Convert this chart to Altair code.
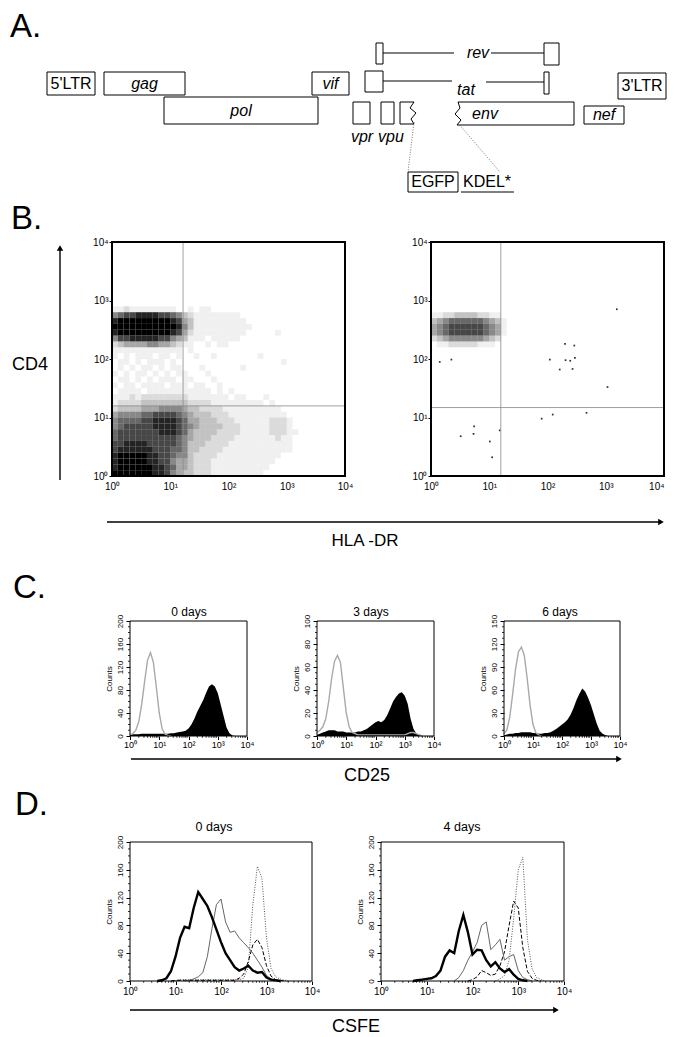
import altair as alt
import pandas as pd

W, H = 660, 1029          # drawing area (page minus 8px margin)
OX, OY = 8, 8             # page margin
FONT = "Liberation Sans, Arial, Helvetica, sans-serif"

# ===================== DATA =====================
# ---- A: provirus map, map units (x from 5'LTR start, y from top track) ----
BOX_LABELS = ["5'LTR", "gag", "vif", "3'LTR", "pol", "", "", "nef", "EGFP", "", "", "", ""]
BOX_ITALIC = [False, True, True, False, True, False, False, True, False, False, False, False, False]
BOX_X0 = [0, 57, 265, 571, 117, 306, 334, 537, 361, 318, 497, 329, 497]
BOX_X1 = [48, 138, 302, 619, 271, 323, 347, 577, 411, 336, 502, 336, 512]
BOX_Y0 = [29, 29, 29, 30, 54, 59, 59, 63, 129, 28, 29, 0, 0]
BOX_Y1 = [52, 52, 52, 56, 81, 81, 81, 81, 149, 49, 51, 21, 22]

FREE_LABELS = ["rev", "tat", "vpr", "vpu", "env", "KDEL*"]
FREE_ITALIC = [True, True, True, True, True, False]
FREE_X = [431, 419, 315, 344, 438, 440]
FREE_Y = [10, 47, 94, 94, 71, 139]

SEG_X0 = [336, 444, 336, 439, 414]
SEG_X1 = [407, 497, 405, 497, 467]
SEG_Y = [10, 10, 38, 39, 149]

GUIDE_X0 = [367, 411]
GUIDE_Y0 = [79, 80]
GUIDE_X1 = [361, 453]
GUIDE_Y1 = [129, 129]

STUB_PATH_X = [367, 353, 353, 367, 364, 369, 363, 367]
STUB_PATH_Y = [59, 59, 81, 81, 76, 70, 65, 59]
ENV_PATH_X = [411, 527, 527, 410, 414, 408, 413, 411]
ENV_PATH_Y = [59, 59, 82, 82, 77, 71, 65, 59]

# ---- B: dot-plot density read per 0.1-decade cell (level 0-9), row = log10(CD4)*10 ----
B_LEFT_ROWS = {
    28: "1121111111100101100000000000000000000000",
    27: "5677888877653211111111000000000000000000",
    26: "8999999999874311111111100000000000000000",
    25: "9999999999985311111111110000000000000000",
    24: "8999999999874211111111100000100000000000",
    23: "5778888877543111011111000000000000000000",
    22: "2344445544321100101100000000000000000000",
    21: "1111111111110100000000000000000000000000",
    20: "1010111011010010010000000100000000000000",
    19: "0110101110100000000000000000010000000000",
    18: "0101011010110001000000100000000000000000",
    17: "1010110101011000100000000000000000000000",
    16: "0110101011101100010000000000000000000000",
    15: "1011011110111011001000000000000000000000",
    14: "0111101111111111101010000000000000000000",
    13: "1112122222222111111101100010000000000000",
    12: "1222233333333222211111111101000000000000",
    11: "2333344455554332222111111111100000000000",
    10: "4555566777765433322211111111110000000000",
    9:  "5666677888876443332221111112221000000000",
    8:  "5677777888876543333222111112221000000000",
    7:  "6777777788876433332222111112221100000000",
    6:  "6777777777765433322221111111211000000000",
    5:  "7788887777765333222211111111111000000000",
    4:  "7888888777665332222111111111111000000000",
    3:  "8999998877655322221111111111100000000000",
    2:  "8999998877544322211111111111000000000000",
    1:  "8999999887644322211111111110000000000000",
    0:  "9999999887543322211111111100000000000000",
}
B_RIGHT_ROWS = {
    27: "1122333322110",
    26: "3456666665431",
    25: "4567777776541",
    24: "4567777776541",
    23: "2345555554320",
    22: "0112222211100",
}
# isolated events in the right plot (log10 HLA-DR, log10 CD4)
B_RIGHT_DOT_LX = [0.15, 0.35, 2.04, 2.21, 2.30, 2.31, 2.39, 2.46, 2.47, 2.43, 3.03, 1.90, 2.09, 2.67,
                  0.51, 0.74, 0.73, 1.01, 1.05, 1.18, 3.19]
B_RIGHT_DOT_LY = [1.95, 1.99, 1.99, 1.82, 2.26, 1.98, 1.97, 2.23, 2.02, 1.83, 1.52, 0.98, 1.05, 1.08,
                  0.68, 0.85, 0.72, 0.59, 0.32, 0.78, 2.85]
B_GATES = [(16.6, 15.8), (15.8, 14.8)]   # quadrant markers (x, y)

# ---- C / D: histograms sampled every 0.1 decade ----
LOG_GRID = [0.0, 0.1, 0.2, 0.3, 0.4, 0.5, 0.6, 0.7, 0.8, 0.9, 1.0, 1.1, 1.2, 1.3, 1.4, 1.5, 1.6, 1.7,
            1.8, 1.9, 2.0, 2.1, 2.2, 2.3, 2.4, 2.5, 2.6, 2.7, 2.8, 2.9, 3.0, 3.1, 3.2, 3.3, 3.4, 3.5,
            3.6, 3.7, 3.8, 3.9, 4.0]

C0_CONTROL = [2, 4, 10, 25, 55, 95, 132, 145, 128, 85, 40, 12, 3, 1, 0, 0, 0, 0, 0, 0, 0, 0, 0, 0, 0,
              0, 0, 0, 0, 0, 0, 0, 0, 0, 0, 0, 0, 0, 0, 0, 0]
C0_CD25 = [3, 3, 3, 3, 4, 4, 4, 4, 4, 4, 4, 4, 4, 4, 5, 5, 6, 7, 8, 9, 13, 20, 30, 42, 52, 62, 75, 86,
           90, 86, 75, 55, 35, 15, 5, 1, 0, 0, 0, 0, 0]
C3_CONTROL = [3, 5, 8, 15, 30, 50, 65, 70, 64, 42, 20, 8, 3, 2, 1, 1, 1, 1, 1, 1, 1, 1, 1, 1, 1, 1, 1,
              1, 1, 1, 1, 2, 3, 3, 2, 1, 0, 0, 0, 0, 0]
C3_CD25 = [1, 2, 3, 4, 5, 5, 5, 4, 4, 4, 3, 3, 3, 3, 4, 4, 5, 6, 8, 10, 12, 13, 12, 14, 18, 24, 30, 34,
           37, 38, 35, 28, 15, 6, 2, 1, 0, 0, 0, 0, 0]
C6_CONTROL = [3, 8, 25, 55, 88, 110, 116, 105, 75, 40, 15, 4, 1, 0, 0, 0, 0, 0, 0, 0, 0, 0, 0, 0, 0,
              0, 0, 0, 0, 0, 0, 0, 0, 0, 0, 0, 0, 0, 0, 0, 0]
C6_CD25 = [1, 2, 3, 3, 4, 4, 5, 5, 5, 5, 4, 4, 3, 3, 4, 4, 5, 7, 9, 12, 15, 18, 22, 28, 37, 47, 55, 62,
           58, 50, 40, 28, 16, 7, 3, 1, 0, 0, 0, 0, 0]

D0_THICK = [0, 0, 0, 0, 0, 0, 0, 1, 4, 14, 35, 62, 78, 76, 105, 128, 118, 108, 92, 74, 56, 40, 30, 20,
            15, 18, 22, 15, 12, 13, 5, 2, 1, 0, 0, 0, 0, 0, 0, 0, 0]
D0_THIN = [0, 0, 0, 0, 0, 0, 0, 0, 0, 0, 0, 0, 0, 1, 3, 6, 12, 35, 75, 110, 118, 85, 70, 72, 62, 55,
           48, 40, 30, 20, 8, 3, 1, 0, 0, 0, 0, 0, 0, 0, 0]
D0_DASH = [0, 0, 0, 0, 0, 0, 0, 0, 0, 0, 1, 1, 1, 1, 1, 1, 1, 1, 1, 1, 1, 1, 1, 1, 4, 10, 28, 52, 60,
           48, 22, 7, 2, 1, 0, 0, 0, 0, 0, 0, 0]
D0_DOT = [0, 0, 0, 0, 0, 0, 0, 0, 0, 0, 0, 2, 2, 2, 2, 2, 2, 2, 2, 2, 2, 2, 2, 2, 2, 4, 20, 110, 165,
          148, 62, 18, 6, 3, 1, 0, 0, 0, 0, 0, 0]
D4_THICK = [0, 0, 0, 0, 0, 0, 0, 0, 1, 2, 3, 4, 7, 15, 35, 44, 40, 72, 95, 70, 38, 45, 44, 30, 21, 27,
            18, 13, 17, 9, 3, 1, 0, 0, 0, 0, 0, 0, 0, 0, 0]
D4_THIN = [0, 0, 0, 0, 0, 0, 0, 0, 0, 0, 0, 0, 0, 0, 0, 0, 0, 5, 15, 30, 42, 55, 80, 85, 45, 52, 60,
           30, 35, 38, 15, 5, 2, 0, 0, 0, 0, 0, 0, 0, 0]
D4_DASH = [0, 0, 0, 0, 0, 0, 0, 0, 0, 0, 0, 0, 0, 0, 0, 0, 0, 0, 0, 0, 2, 6, 15, 12, 8, 10, 22, 42, 80,
           115, 105, 48, 14, 4, 1, 0, 0, 0, 0, 0, 0]
D4_DOT = [0, 0, 0, 0, 0, 0, 0, 0, 0, 0, 0, 0, 0, 0, 0, 0, 0, 0, 0, 0, 0, 0, 0, 0, 0, 0, 3, 8, 30, 90,
          160, 178, 60, 18, 5, 2, 0, 0, 0, 0, 0]

LOG_TICKS = [1, 10, 100, 1000, 10000]
MINOR_TICKS = [m * d for d in [1, 10, 100, 1000] for m in range(2, 10)]

SUP_EXPR = ("datum.value == 1 ? '10\u2070' : datum.value == 10 ? '10\u00b9' : "
            "datum.value == 100 ? '10\u00b2' : datum.value == 1000 ? '10\u00b3' : "
            "datum.value == 10000 ? '10\u2074' : ''")

# ===================== LAYOUT (page px) =====================
FRAME_B = [(112, 345, 242, 476), (431, 664, 242, 476)]
FRAME_C = [(130, 247, 621, 736), (317, 434, 621, 736), (504, 620, 621, 736)]
FRAME_D = [(130, 312, 842, 981), (381, 564, 842, 981)]


def one_row():
    return pd.DataFrame({"k": [0]})


def text_mark(txt, x, y, size, align="center", baseline="middle", style="normal"):
    return alt.Chart(pd.DataFrame({"t": [txt]})).mark_text(
        fontSize=size, align=align, baseline=baseline, font=FONT, fontStyle=style, color="black"
    ).encode(x=alt.value(x - OX), y=alt.value(y - OY), text="t:N")


def h_arrow(x0, x1, y, width=1.4):
    rule = alt.Chart(one_row()).mark_rule(color="black", strokeWidth=width).encode(
        x=alt.value(x0 - OX), x2=alt.value(x1 - OX - 5), y=alt.value(y - OY))
    head = alt.Chart(one_row()).mark_point(shape="triangle-right", filled=True, size=42,
                                           color="black", opacity=1).encode(
        x=alt.value(x1 - OX - 4), y=alt.value(y - OY))
    return [rule, head]


def v_arrow(x, y_bottom, y_top, width=1.4):
    rule = alt.Chart(one_row()).mark_rule(color="black", strokeWidth=width).encode(
        x=alt.value(x - OX), y=alt.value(y_bottom - OY), y2=alt.value(y_top - OY + 5))
    head = alt.Chart(one_row()).mark_point(shape="triangle-up", filled=True, size=42,
                                           color="black", opacity=1).encode(
        x=alt.value(x - OX), y=alt.value(y_top - OY + 4))
    return [rule, head]


# ===================== PANEL A =====================
def a_x(field):
    return alt.X(field, type="quantitative", axis=None,
                 scale=alt.Scale(domain=[0, 620], range=[39, 659], nice=False, zero=False))


def a_y(field):
    return alt.Y(field, type="quantitative", axis=None,
                 scale=alt.Scale(domain=[0, 152], range=[35, 187], nice=False, zero=False))


boxes = pd.DataFrame({"x0": BOX_X0, "x1": BOX_X1, "y0": BOX_Y0, "y1": BOX_Y1,
                      "label": BOX_LABELS, "italic": BOX_ITALIC})
boxes["xc"] = (boxes.x0 + boxes.x1) / 2
boxes["yc"] = (boxes.y0 + boxes.y1) / 2
free = pd.DataFrame({"x": FREE_X, "y": FREE_Y, "label": FREE_LABELS, "italic": FREE_ITALIC})
segs = pd.DataFrame({"x0": SEG_X0, "x1": SEG_X1, "y": SEG_Y})
guides = pd.DataFrame({"x0": GUIDE_X0, "x1": GUIDE_X1, "y0": GUIDE_Y0, "y1": GUIDE_Y1})
paths = pd.concat([
    pd.DataFrame({"x": STUB_PATH_X, "y": STUB_PATH_Y, "i": range(len(STUB_PATH_X)), "g": "stub"}),
    pd.DataFrame({"x": ENV_PATH_X, "y": ENV_PATH_Y, "i": range(len(ENV_PATH_X)), "g": "env"}),
])

units_a = [
    alt.Chart(boxes).mark_rect(fillOpacity=0, stroke="black", strokeWidth=1).encode(
        x=a_x("x0"), x2="x1", y=a_y("y0"), y2="y1"),
    alt.Chart(paths).mark_line(color="black", strokeWidth=1).encode(
        x=a_x("x"), y=a_y("y"), detail="g:N", order="i:Q"),
    alt.Chart(segs).mark_rule(color="black", strokeWidth=1).encode(
        x=a_x("x0"), x2="x1", y=a_y("y")),
    alt.Chart(guides).mark_rule(color="#555", strokeWidth=0.8, strokeDash=[1, 1.5]).encode(
        x=a_x("x0"), x2="x1", y=a_y("y0"), y2="y1"),
    alt.Chart(boxes[(boxes.label != "") & boxes.italic]).mark_text(
        fontSize=16, fontStyle="italic", font=FONT, color="black").encode(
        x=a_x("xc"), y=a_y("yc"), text="label:N"),
    alt.Chart(boxes[(boxes.label != "") & ~boxes.italic]).mark_text(
        fontSize=16, font=FONT, color="black").encode(
        x=a_x("xc"), y=a_y("yc"), text="label:N"),
    alt.Chart(free[free.italic]).mark_text(
        fontSize=16, fontStyle="italic", font=FONT, color="black").encode(
        x=a_x("x"), y=a_y("y"), text="label:N"),
    alt.Chart(free[~free.italic]).mark_text(
        fontSize=16, font=FONT, color="black").encode(
        x=a_x("x"), y=a_y("y"), text="label:N"),
]


# ===================== PANEL B =====================
def cells_frame(rows):
    recs = []
    for r, s in rows.items():
        for c, ch in enumerate(s):
            lvl = int(ch)
            if lvl > 0:
                recs.append({"xa": 10 ** (c / 10), "xb": 10 ** ((c + 1) / 10),
                             "ya": 10 ** (r / 10), "yb": 10 ** ((r + 1) / 10), "lvl": lvl})
    return pd.DataFrame(recs)


def scatter_units(frame, rows, gate, dots=None, last_label_right=False):
    x0, x1, y0, y1 = frame

    def sx():
        return alt.Scale(type="log", domain=[1, 10000], range=[x0 - OX, x1 - OX], nice=False)

    def sy():
        return alt.Scale(type="log", domain=[1, 10000], range=[y1 - OY, y0 - OY], nice=False)

    xaxis_kw = dict(orient="bottom", offset=(y1 - OY) - H, values=LOG_TICKS, labelExpr=SUP_EXPR,
                    tickSize=0, labelPadding=5, labelFontSize=10, labelFlush=False,
                    labelOverlap=False, domain=False, grid=False, title="")
    if last_label_right:
        xaxis_kw["labelAlign"] = {"condition": {"test": "datum.value == 10000", "value": "right"},
                                  "value": "center"}
    xaxis = alt.Axis(**xaxis_kw)
    yaxis = alt.Axis(orient="left", offset=-(x0 - OX), values=LOG_TICKS, labelExpr=SUP_EXPR,
                     tickSize=3, labelPadding=1, labelFontSize=10,
                     labelFlush=False, labelOverlap=False, domain=False, grid=False, title="")
    units = [alt.Chart(cells_frame(rows)).mark_rect(color="black", strokeWidth=0).encode(
        x=alt.X("xa:Q", scale=sx(), axis=None), x2="xb:Q",
        y=alt.Y("ya:Q", scale=sy(), axis=None), y2="yb:Q",
        opacity=alt.Opacity("lvl:Q", scale=alt.Scale(type="pow", exponent=1.3, domain=[0, 9],
                                                     range=[0, 1]), legend=None))]
    if dots is not None:
        lx, ly = dots
        ddf = pd.DataFrame({"x": [10 ** v for v in lx], "y": [10 ** v for v in ly]})
        units.append(alt.Chart(ddf).mark_square(size=3, color="black", opacity=0.8).encode(
            x=alt.X("x:Q", scale=sx(), axis=None), y=alt.Y("y:Q", scale=sy(), axis=None)))
    gx, gy = gate
    units.append(alt.Chart(pd.DataFrame({"xa": [gx, 1], "xb": [gx, 10000],
                                         "ya": [1, gy], "yb": [10000, gy]})
                           ).mark_rule(color="#888", strokeWidth=0.8).encode(
        x=alt.X("xa:Q", scale=sx(), axis=None), x2="xb:Q",
        y=alt.Y("ya:Q", scale=sy(), axis=None), y2="yb:Q"))
    units.append(alt.Chart(pd.DataFrame({"xa": [1], "xb": [10000], "ya": [1], "yb": [10000]})).mark_rect(
        fillOpacity=0, stroke="black", strokeWidth=2).encode(
        x=alt.X("xa:Q", scale=sx(), axis=xaxis), x2="xb:Q",
        y=alt.Y("ya:Q", scale=sy(), axis=yaxis), y2="yb:Q"))
    return units


units_b = (scatter_units(FRAME_B[0], B_LEFT_ROWS, B_GATES[0]) +
           scatter_units(FRAME_B[1], B_RIGHT_ROWS, B_GATES[1], (B_RIGHT_DOT_LX, B_RIGHT_DOT_LY),
                         last_label_right=True))


# ===================== PANELS C and D =====================
def series_df(vals, trim=True):
    lo, hi = 0, len(vals) - 1
    if trim:
        nz = [i for i, v in enumerate(vals) if v > 0]
        lo, hi = max(nz[0] - 1, 0), min(nz[-1] + 1, len(vals) - 1)
    return pd.DataFrame({"v": [10 ** g for g in LOG_GRID[lo:hi + 1]], "c": vals[lo:hi + 1]})


STYLES = {
    "control": dict(color="#a9a9a9", strokeWidth=1.4),
    "thick": dict(color="black", strokeWidth=2.4),
    "thin": dict(color="#666666", strokeWidth=1.0),
    "dash": dict(color="black", strokeWidth=1.0, strokeDash=[4, 2]),
    "dot": dict(color="#555555", strokeWidth=1.0, strokeDash=[1, 1.5]),
}


def hist_units(frame, ymax, label_step, area_vals, lines, xlab_pad, xlab_size):
    x0, x1, y0, y1 = frame

    def sx():
        return alt.Scale(type="log", domain=[1, 10000], range=[x0 - OX, x1 - OX], nice=False)

    def sy():
        return alt.Scale(type="linear", domain=[0, ymax], range=[y1 - OY, y0 - OY], nice=False,
                         zero=True)

    xaxis = alt.Axis(orient="bottom", offset=(y1 - OY) - H, values=LOG_TICKS, labelExpr=SUP_EXPR,
                     tickSize=3.5, labelPadding=xlab_pad, labelFontSize=xlab_size, labelFlush=False,
                     labelOverlap=False, domain=False, grid=False, title="")
    ymajor = [label_step * i for i in range(int(round(ymax / label_step)) + 1)]
    yaxis = alt.Axis(orient="left", offset=-(x0 - OX), values=ymajor,
                     tickSize=4, labelAngle=270, labelAlign="center", labelBaseline="bottom",
                     labelPadding=2, labelFontSize=8, labelFlush=False, labelOverlap=False,
                     title="Counts", titleFontSize=8, titleFontWeight="normal", titlePadding=3,
                     domain=False, grid=False)
    px_per_count = (y1 - y0) / ymax
    px_per_decade = (x1 - x0) / 4
    minor_x = pd.DataFrame({"v": MINOR_TICKS, "c0": 0.0, "c1": -1.8 / px_per_count})
    minor_y_vals = [ymax * i / 20 for i in range(21) if (ymax * i / 20) % label_step != 0]
    minor_y = pd.DataFrame({"c": minor_y_vals, "v0": 1.0, "v1": 10 ** (-2.0 / px_per_decade)})
    units = []
    if area_vals is not None:
        units.append(alt.Chart(series_df(area_vals, trim=False)).mark_area(
            color="black", interpolate="linear", opacity=1).encode(
            x=alt.X("v:Q", scale=sx(), axis=None), y=alt.Y("c:Q", scale=sy(), axis=None)))
    for vals, style in lines:
        units.append(alt.Chart(series_df(vals)).mark_line(interpolate="linear", **STYLES[style]).encode(
            x=alt.X("v:Q", scale=sx(), axis=None), y=alt.Y("c:Q", scale=sy(), axis=None)))
    units.append(alt.Chart(minor_x).mark_rule(color="black", strokeWidth=0.8).encode(
        x=alt.X("v:Q", scale=sx(), axis=None), y=alt.Y("c0:Q", scale=sy(), axis=None), y2="c1:Q"))
    units.append(alt.Chart(minor_y).mark_rule(color="black", strokeWidth=0.8).encode(
        x=alt.X("v0:Q", scale=sx(), axis=None), x2="v1:Q", y=alt.Y("c:Q", scale=sy(), axis=None)))
    units.append(alt.Chart(pd.DataFrame({"xa": [1], "xb": [10000], "ya": [0], "yb": [ymax]})).mark_rect(
        fillOpacity=0, stroke="black", strokeWidth=1).encode(
        x=alt.X("xa:Q", scale=sx(), axis=xaxis), x2="xb:Q",
        y=alt.Y("ya:Q", scale=sy(), axis=yaxis), y2="yb:Q"))
    return units


units_cd = (
    hist_units(FRAME_C[0], 200, 40, C0_CD25, [(C0_CONTROL, "control")], 1, 9) +
    hist_units(FRAME_C[1], 100, 20, C3_CD25, [(C3_CONTROL, "control")], 1, 9) +
    hist_units(FRAME_C[2], 150, 30, C6_CD25, [(C6_CONTROL, "control")], 1, 9) +
    hist_units(FRAME_D[0], 200, 40, None,
               [(D0_DOT, "dot"), (D0_DASH, "dash"), (D0_THIN, "thin"), (D0_THICK, "thick")], 2, 10) +
    hist_units(FRAME_D[1], 200, 40, None,
               [(D4_DOT, "dot"), (D4_DASH, "dash"), (D4_THIN, "thin"), (D4_THICK, "thick")], 2, 10)
)

# ===================== ANNOTATIONS =====================
notes = [
    text_mark("A.", 10, 37, 33, align="left", baseline="alphabetic"),
    text_mark("B.", 11, 229, 33, align="left", baseline="alphabetic"),
    text_mark("C.", 13, 598, 33, align="left", baseline="alphabetic"),
    text_mark("D.", 15, 815, 33, align="left", baseline="alphabetic"),
    text_mark("CD4", 30, 365, 18),
    text_mark("HLA -DR", 365, 541, 17),
    text_mark("0 days", 189, 612, 12),
    text_mark("3 days", 371, 612, 12),
    text_mark("6 days", 560, 612, 12),
    text_mark("CD25", 367, 776, 18),
    text_mark("0 days", 214, 827, 12.5),
    text_mark("4 days", 462, 827, 12.5),
    text_mark("CSFE", 356, 1027, 18),
]
notes += v_arrow(60, 480, 244)
notes += h_arrow(107, 665, 522)
notes += h_arrow(131, 623, 759)
notes += h_arrow(130, 560, 1010)

chart = alt.layer(*units_a, *units_b, *units_cd, *notes).resolve_scale(
    x="independent", y="independent"
).resolve_axis(
    x="independent", y="independent"
).properties(
    width=W, height=H, autosize=alt.AutoSizeParams(type="none"), padding=0
).configure_view(
    strokeWidth=0
).configure_axis(
    labelFont=FONT, titleFont=FONT, labelColor="black", titleColor="black", tickColor="black"
)

chart.save("out.html", embed_options={"renderer": "svg", "actions": False})
